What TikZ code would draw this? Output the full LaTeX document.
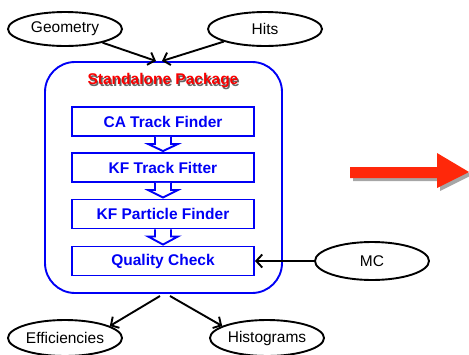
\documentclass[tikz,border=0pt]{standalone}
\usepackage{fontspec}
\setmainfont{Liberation Sans}
\usetikzlibrary{shapes.geometric,arrows.meta,calc}
\definecolor{pblue}{RGB}{0,0,245}
\definecolor{pred}{RGB}{250,0,0}
\definecolor{arrred}{RGB}{255,40,10}
\tikzset{
  oval/.style={ellipse,draw=black,line width=1.9pt,minimum width=114pt,minimum height=34pt,inner sep=0pt,font=\fontsize{15.5}{18}\selectfont},
  stepbox/.style={rectangle,draw=pblue,line width=1.9pt,minimum width=182pt,minimum height=29pt,inner sep=0pt,text=pblue,font=\bfseries\fontsize{15.5}{18}\selectfont},
  conn/.style={black,line width=1.9pt,-{Straight Barb[length=6pt,width=13pt,line width=1.9pt]}},
  hollow/.style={draw=pblue,line width=1.9pt,fill=white,line join=miter}
}
\begin{document}
\begin{tikzpicture}[x=1pt,y=-1pt]
\useasboundingbox (0,0) rectangle (469,354);
% input ellipses
\node[oval] (geo) at (65,29) {Geometry};
\node[oval] (hits) at (265,29) {Hits};
% package
\draw[pblue,line width=1.9pt,rounded corners=30pt] (45,62) rectangle (282,293);
\node[text=black!60,font=\bfseries\fontsize{15.5}{18}\selectfont] (titsh) at (164.3,82.3) {Standalone Package};
\node[text=pred,font=\bfseries\fontsize{15.5}{18}\selectfont] (title) at (163,81) {Standalone Package};
\node[stepbox] (ca) at (163,121.5) {CA Track Finder};
\node[stepbox] (kff) at (163,167.5) {KF Track Fitter};
\node[stepbox] (kfp) at (163,214) {KF Particle Finder};
\node[stepbox] (qc) at (163,261) {Quality Check};
% hollow arrows
\foreach \a/\b in {ca/kff,kff/kfp,kfp/qc}{
  \draw[hollow] ($(\a.south)+(-8,0)$) -- ($(\a.south)+(-8,7)$) -- ($(\a.south)+(-15,7)$) -- ($(\b.north)+(0,-1)$) -- ($(\a.south)+(15,7)$) -- ($(\a.south)+(8,7)$) -- ($(\a.south)+(8,0)$);
}
% MC
\node[oval,minimum height=38pt] (mc) at (372,261) {MC};
\draw[conn] (mc.west) -- (qc.east);
% top connectors
\coordinate (gin) at (156,61);
\coordinate (hin) at (162,61);
\draw[conn] (geo.-20) -- (gin);
\draw[conn] (hits.-163) -- (hin);
% outputs
\node[oval,minimum height=36pt] (eff) at (65,338) {Efficiencies};
\node[oval,minimum height=36pt] (hist) at (267,338) {Histograms};
\coordinate (effout) at (160,296);
\coordinate (histout) at (170,296);
\draw[conn] (effout) -- (eff.15);
\draw[conn] (histout) -- (hist.165);
% big red arrow with shadow
\fill[black,opacity=0.35] (353,170) -- (440,170) -- (440,156) -- (472,175) -- (440,191) -- (440,181) -- (353,181) -- cycle;
\fill[arrred] (350,167) -- (437,167) -- (437,153) -- (469,172) -- (437,188) -- (437,178) -- (350,178) -- cycle;
\end{tikzpicture}
\end{document}
